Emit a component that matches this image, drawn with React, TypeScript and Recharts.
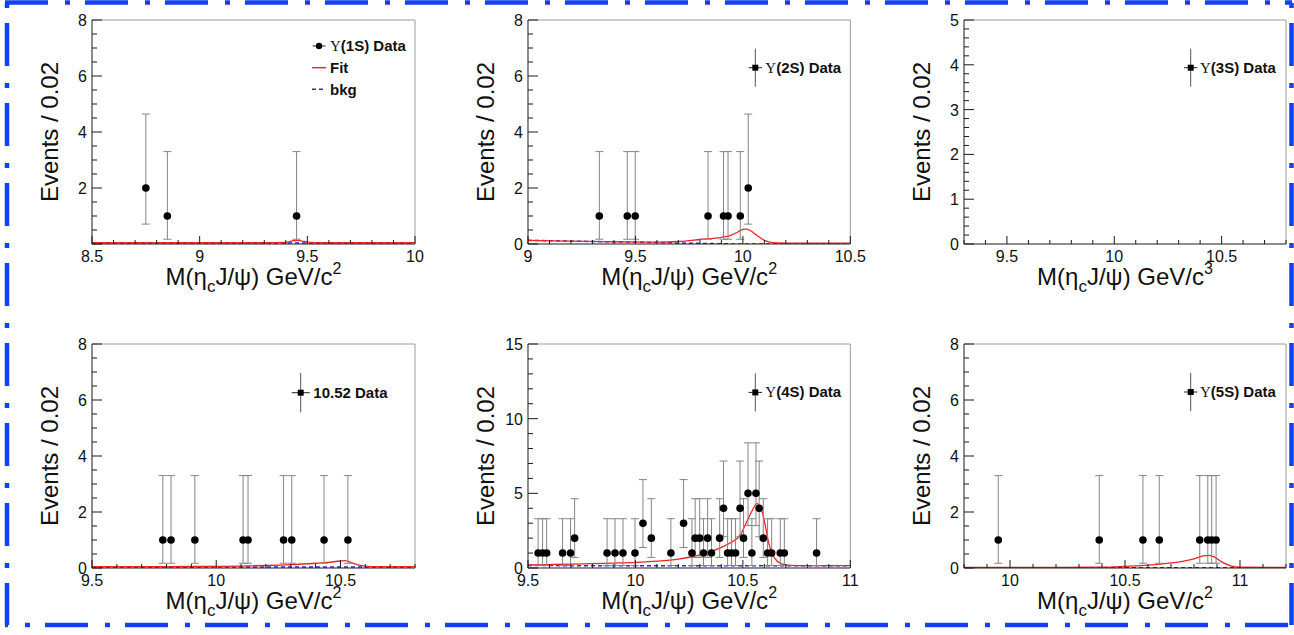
import React from 'react';
import { ComposedChart, Line, Scatter, ErrorBar, XAxis, YAxis } from 'recharts';

const SANS = '"Liberation Sans", Arial, Helvetica, sans-serif';
const SERIF = '"Liberation Serif", "DejaVu Serif", serif';

// asymmetric (Poisson) error bars as drawn, indexed by event count
const errLow = [0, 0.83, 1.29, 1.63, 1.91, 2.16];
const errHigh = [0, 2.3, 2.64, 2.92, 3.16, 3.38];

// Υ(1S)
const y1sMass = [8.75, 8.85, 9.45];
const y1sEvents = [2, 1, 1];
const y1sFitMass = [8.5, 9.3, 9.4, 9.43, 9.45, 9.47, 9.5, 9.55, 10];
const y1sFitVal = [0.045, 0.045, 0.06, 0.11, 0.13, 0.11, 0.07, 0.045, 0.045];
const y1sBkgMass = [8.5, 10];
const y1sBkgVal = [0.035, 0.035];

// Υ(2S)
const y2sMass = [9.332, 9.462, 9.499, 9.838, 9.91, 9.931, 9.988, 10.025];
const y2sEvents = [1, 1, 1, 1, 1, 1, 1, 2];
const y2sFitMass = [9.0, 9.2, 9.4, 9.6, 9.7, 9.8, 9.9, 9.94, 9.97, 9.99, 10.01, 10.03, 10.06, 10.09, 10.12, 10.16, 10.25, 10.5];
const y2sFitVal = [0.13, 0.1, 0.08, 0.07, 0.09, 0.16, 0.24, 0.3, 0.4, 0.49, 0.53, 0.5, 0.34, 0.17, 0.08, 0.04, 0.03, 0.03];
const y2sBkgMass = [9.0, 9.3, 9.6, 9.9, 10.0, 10.5];
const y2sBkgVal = [0.13, 0.09, 0.05, 0.01, 0.0, 0.0];

// Υ(3S): no candidates
const y3sMass: number[] = [];
const y3sEvents: number[] = [];

// 10.52 continuum
const c1052Mass = [9.785, 9.818, 9.914, 10.108, 10.128, 10.271, 10.304, 10.434, 10.53];
const c1052Events = [1, 1, 1, 1, 1, 1, 1, 1, 1];
const c1052FitMass = [9.5, 9.8, 10.0, 10.1, 10.2, 10.3, 10.4, 10.45, 10.5, 10.52, 10.55, 10.58, 10.62, 10.8];
const c1052FitVal = [0.05, 0.05, 0.06, 0.07, 0.09, 0.12, 0.17, 0.2, 0.25, 0.26, 0.17, 0.09, 0.05, 0.05];
const c1052BkgMass = [9.5, 10.8];
const c1052BkgVal = [0.04, 0.04];

// Υ(4S)
const y4sMass = [
  9.547, 9.568, 9.587, 9.661, 9.698, 9.717, 9.868, 9.905, 9.942, 9.998, 10.035, 10.074,
  10.165, 10.224, 10.263, 10.278, 10.299, 10.317, 10.336, 10.354, 10.392, 10.41, 10.429,
  10.447, 10.466, 10.487, 10.503, 10.524, 10.542, 10.561, 10.576, 10.595, 10.615, 10.634,
  10.674, 10.693, 10.843,
];
const y4sEvents = [
  1, 1, 1, 1, 1, 2, 1, 1, 1, 1, 3, 2,
  1, 3, 1, 2, 2, 1, 2, 1, 2, 4, 1,
  1, 1, 4, 2, 5, 1, 5, 4, 2, 1, 1,
  1, 1, 1,
];
const y4sFitMass = [
  9.5, 9.6, 9.7, 9.8, 9.9, 10.0, 10.1, 10.2, 10.25, 10.3, 10.35, 10.4, 10.44, 10.49, 10.51,
  10.54, 10.566, 10.578, 10.59, 10.605, 10.62, 10.64, 10.66, 10.68, 10.72, 10.8, 11.0,
];
const y4sFitVal = [
  0.2, 0.23, 0.26, 0.29, 0.33, 0.38, 0.46, 0.6, 0.72, 0.88, 1.1, 1.38, 1.67, 2.25, 2.85,
  3.75, 4.33, 4.1, 3.75, 2.8, 1.7, 0.85, 0.45, 0.28, 0.18, 0.16, 0.16,
];
const y4sBkgMass = [9.5, 11.0];
const y4sBkgVal = [0.16, 0.15];

// Υ(5S)
const y5sMass = [9.949, 10.388, 10.578, 10.649, 10.825, 10.86, 10.877, 10.896];
const y5sEvents = [1, 1, 1, 1, 1, 1, 1, 1];
const y5sFitMass = [9.8, 10.2, 10.4, 10.5, 10.6, 10.7, 10.75, 10.8, 10.84, 10.865, 10.89, 10.92, 10.96, 11.0, 11.2];
const y5sFitVal = [0.02, 0.02, 0.03, 0.06, 0.1, 0.18, 0.24, 0.33, 0.43, 0.45, 0.39, 0.22, 0.08, 0.03, 0.02];
const y5sBkgMass = [9.8, 11.2];
const y5sBkgVal = [0.01, 0.01];

const steps = (lo: number, hi: number, step: number) => {
  const out: number[] = [];
  for (let v = lo; v <= hi + 1e-9; v += step) out.push(Math.round(v * 1000) / 1000);
  return out;
};
const pairs = (xs: number[], ys: number[]) => xs.map((m, i) => ({ m, v: ys[i] }));
const isIn = (arr: number[], v: number) => arr.some((t) => Math.abs(t - v) < 1e-6);
const fmt = (v: number) => String(Math.round(v * 100) / 100);

const panels = [
  {
    left: 0, top: 0, plotW: 323,
    mass: y1sMass, events: y1sEvents, fit: pairs(y1sFitMass, y1sFitVal), bkg: pairs(y1sBkgMass, y1sBkgVal),
    xDomain: [8.5, 10], xMajor: [8.5, 9, 9.5, 10],
    yMax: 8, yMajor: [0, 2, 4, 6, 8], yLabels: [2, 4, 6, 8], yMinor: 0.5,
    sup: '2', ups: true, tag: '(1S) Data', full: true,
    lg: { mx: 319, my: 46, v: 0, h: 6.5, tx: 330, ty: 51 },
  },
  {
    left: 435.7, top: 0, plotW: 322.3,
    mass: y2sMass, events: y2sEvents, fit: pairs(y2sFitMass, y2sFitVal), bkg: pairs(y2sBkgMass, y2sBkgVal),
    xDomain: [9, 10.5], xMajor: [9, 9.5, 10, 10.5],
    yMax: 8, yMajor: [0, 2, 4, 6, 8], yLabels: [0, 2, 4, 6, 8], yMinor: 0.5,
    sup: '2', ups: true, tag: '(2S) Data', full: false,
    lg: { mx: 755, my: 67.7, v: 19, h: 6.7, tx: 765, ty: 72.5 },
  },
  {
    left: 872, top: 0, plotW: 322,
    mass: y3sMass, events: y3sEvents, fit: [], bkg: [],
    xDomain: [9.3, 10.8], xMajor: [9.5, 10, 10.5],
    yMax: 5, yMajor: [0, 1, 2, 3, 4, 5], yLabels: [0, 1, 2, 3, 4, 5], yMinor: 0.2,
    sup: '3', ups: true, tag: '(3S) Data', full: false,
    lg: { mx: 1190.7, my: 67.7, v: 19, h: 6.7, tx: 1200, ty: 72.5 },
  },
  {
    left: 0, top: 324.3, plotW: 323,
    mass: c1052Mass, events: c1052Events, fit: pairs(c1052FitMass, c1052FitVal), bkg: pairs(c1052BkgMass, c1052BkgVal),
    xDomain: [9.5, 10.8], xMajor: [9.5, 10, 10.5],
    yMax: 8, yMajor: [0, 2, 4, 6, 8], yLabels: [0, 2, 4, 6, 8], yMinor: 0.5,
    sup: '2', ups: false, tag: '10.52 Data', full: false,
    lg: { mx: 300.7, my: 393, v: 19.7, h: 9, tx: 313.3, ty: 398 },
  },
  {
    left: 435.7, top: 324.3, plotW: 322.3,
    mass: y4sMass, events: y4sEvents, fit: pairs(y4sFitMass, y4sFitVal), bkg: pairs(y4sBkgMass, y4sBkgVal),
    xDomain: [9.5, 11], xMajor: [9.5, 10, 10.5, 11],
    yMax: 15, yMajor: [0, 5, 10, 15], yLabels: [0, 5, 10, 15], yMinor: 1,
    sup: '2', ups: true, tag: '(4S) Data', full: false,
    lg: { mx: 755, my: 392.7, v: 19, h: 6.7, tx: 765, ty: 397.5 },
  },
  {
    left: 872, top: 324.3, plotW: 322,
    mass: y5sMass, events: y5sEvents, fit: pairs(y5sFitMass, y5sFitVal), bkg: pairs(y5sBkgMass, y5sBkgVal),
    xDomain: [9.8, 11.2], xMajor: [10, 10.5, 11],
    yMax: 8, yMajor: [0, 2, 4, 6, 8], yLabels: [0, 2, 4, 6, 8], yMinor: 0.5,
    sup: '2', ups: true, tag: '(5S) Data', full: false,
    lg: { mx: 1190.7, my: 392.3, v: 19, h: 6.7, tx: 1200, ty: 397 },
  },
];

const AXIS = '#1a1a1a';
const FRAME = '#9a9a9a';
const RED = '#ec2424';
const BLUE = '#2a2ad8';

const xTick = (majors: number[]) => (props: any) => {
  const { x, y, payload } = props;
  const major = isIn(majors, payload.value);
  return (
    <g>
      <line x1={x} x2={x} y1={y} y2={y - (major ? 8 : 4)} stroke={AXIS} strokeWidth={1} />
      {major && (
        <text x={x} y={y + 18} textAnchor="middle" fontSize={16} fontFamily={SANS} fill="#111">
          {fmt(payload.value)}
        </text>
      )}
    </g>
  );
};

const yTick = (majors: number[], labels: number[]) => (props: any) => {
  const { x, y, payload } = props;
  const major = isIn(majors, payload.value);
  return (
    <g>
      <line x1={x} x2={x + (major ? 10 : 5)} y1={y} y2={y} stroke={AXIS} strokeWidth={1} />
      {isIn(labels, payload.value) && (
        <text x={x - 5} y={y + 6} textAnchor="end" fontSize={16} fontFamily={SANS} fill="#111">
          {fmt(payload.value)}
        </text>
      )}
    </g>
  );
};

const xTitle = (sup: string) => (props: any) => {
  const vb = props.viewBox;
  const cx = vb.x + vb.width / 2;
  return (
    <text x={cx} y={vb.y + 41} textAnchor="middle" fontSize={24} fontFamily={SANS} fill="#111">
      M(η<tspan fontSize={17} dy={7}>c</tspan>
      <tspan dy={-7}>J/ψ) GeV/c</tspan>
      <tspan fontSize={16} dy={-11}>{sup}</tspan>
    </text>
  );
};

const yTitle = (props: any) => {
  const vb = props.viewBox;
  const x = vb.x + vb.width - 34;
  const y = vb.y + vb.height / 2;
  return (
    <text x={x} y={y} transform={`rotate(-90, ${x}, ${y})`} textAnchor="middle" fontSize={24} fontFamily={SANS} fill="#111">
      Events / 0.02
    </text>
  );
};

const dot = (props: any) =>
  props.cx == null ? <g /> : <circle cx={props.cx} cy={props.cy} r={3.8} fill="#000" />;

function LegendBox({ p, W, H }: any) {
  const { mx, my, v, h, tx, ty } = p.lg;
  const ox = p.left;
  const oy = p.top;
  const x = mx - ox;
  const y = my - oy;
  return (
    <svg width={W} height={H} style={{ position: 'absolute', left: 0, top: 0, pointerEvents: 'none' }}>
      {v > 0 && <line x1={x} x2={x} y1={y - v} y2={y + v} stroke="#555" strokeWidth={1} />}
      <line x1={x - h} x2={x + h} y1={y} y2={y} stroke="#222" strokeWidth={1} />
      {p.full ? <circle cx={x} cy={y} r={3.2} fill="#000" /> : <rect x={x - 3} y={y - 3} width={6} height={6} fill="#000" />}
      <text x={tx - ox} y={ty - oy} fontSize={15} fontWeight="bold" fontFamily={SANS} fill="#111">
        {p.ups && <tspan fontFamily={SERIF} fontWeight="normal">Υ</tspan>}
        {p.tag}
      </text>
      {p.full && (
        <g>
          <line x1={312 - ox} x2={326 - ox} y1={67.7 - oy} y2={67.7 - oy} stroke={RED} strokeWidth={1.4} />
          <text x={330 - ox} y={73 - oy} fontSize={15} fontWeight="bold" fontFamily={SANS} fill="#111">Fit</text>
          <line x1={312 - ox} x2={326 - ox} y1={89.3 - oy} y2={89.3 - oy} stroke={BLUE} strokeWidth={1.5} strokeDasharray="4 3" />
          <text x={330 - ox} y={95 - oy} fontSize={15} fontWeight="bold" fontFamily={SANS} fill="#111">bkg</text>
        </g>
      )}
    </svg>
  );
}

function Panel({ p }: any) {
  const W = 92 + p.plotW + 22;
  const H = 304;
  const points = p.mass.map((m: number, i: number) => {
    const n = p.events[i];
    return { m, n, err: [errLow[n], errHigh[n]] };
  });
  const xTicks = steps(p.xDomain[0], p.xDomain[1], 0.1);
  const yTicks = steps(0, p.yMax, p.yMinor);
  return (
    <div style={{ position: 'absolute', left: p.left, top: p.top, width: W, height: H }}>
      <ComposedChart width={W} height={H} margin={{ top: 19, right: 21, bottom: 59, left: 91 }}>
        <XAxis
          type="number" dataKey="m" domain={p.xDomain} allowDataOverflow ticks={xTicks} interval={0}
          height={1} tickSize={0} tickMargin={0} tickLine={false}
          axisLine={{ stroke: AXIS }} tick={xTick(p.xMajor)} label={{ content: xTitle(p.sup) }}
        />
        <XAxis xAxisId="top" orientation="top" type="number" domain={p.xDomain} allowDataOverflow height={1} tick={false} tickLine={false} axisLine={{ stroke: FRAME }} />
        <YAxis
          type="number" domain={[0, p.yMax]} allowDataOverflow ticks={yTicks} interval={0}
          width={1} tickSize={0} tickMargin={0} tickLine={false}
          axisLine={{ stroke: AXIS }} tick={yTick(p.yMajor, p.yLabels)} label={{ content: yTitle }}
        />
        <YAxis yAxisId="right" orientation="right" type="number" domain={[0, p.yMax]} allowDataOverflow width={1} tick={false} tickLine={false} axisLine={{ stroke: FRAME }} />
        {p.bkg.length > 0 && (
          <Line data={p.bkg} dataKey="v" type="monotone" stroke={BLUE} strokeWidth={1.5} strokeDasharray="4 3" dot={false} isAnimationActive={false} />
        )}
        {p.fit.length > 0 && (
          <Line data={p.fit} dataKey="v" type="monotone" stroke={RED} strokeWidth={1.3} dot={false} isAnimationActive={false} />
        )}
        <Scatter data={points} dataKey="n" shape={dot} isAnimationActive={false}>
          <ErrorBar dataKey="err" direction="y" width={4} stroke="#858585" strokeWidth={1} isAnimationActive={false} />
        </Scatter>
      </ComposedChart>
      <LegendBox p={p} W={W} H={H} />
    </div>
  );
}

export default function App() {
  return (
    <div style={{ position: 'absolute', left: 0, top: 0, width: 1294, height: 635, background: '#fff', overflow: 'hidden' }}>
      {panels.map((p, i) => (
        <Panel key={i} p={p} />
      ))}
      <svg width={1294} height={635} style={{ position: 'absolute', left: 0, top: 0, pointerEvents: 'none' }}>
        <g stroke="#1141f5" strokeWidth={4.5} strokeDasharray="43 17 5 15" fill="none">
          <line x1={5} y1={2.5} x2={1292} y2={2.5} />
          <line x1={7} y1={3} x2={7} y2={625} strokeDashoffset={60} />
          <line x1={5} y1={625} x2={1292} y2={625} strokeDashoffset={40} />
          <line x1={1291.5} y1={3} x2={1291.5} y2={625} strokeDashoffset={60} />
        </g>
      </svg>
    </div>
  );
}
